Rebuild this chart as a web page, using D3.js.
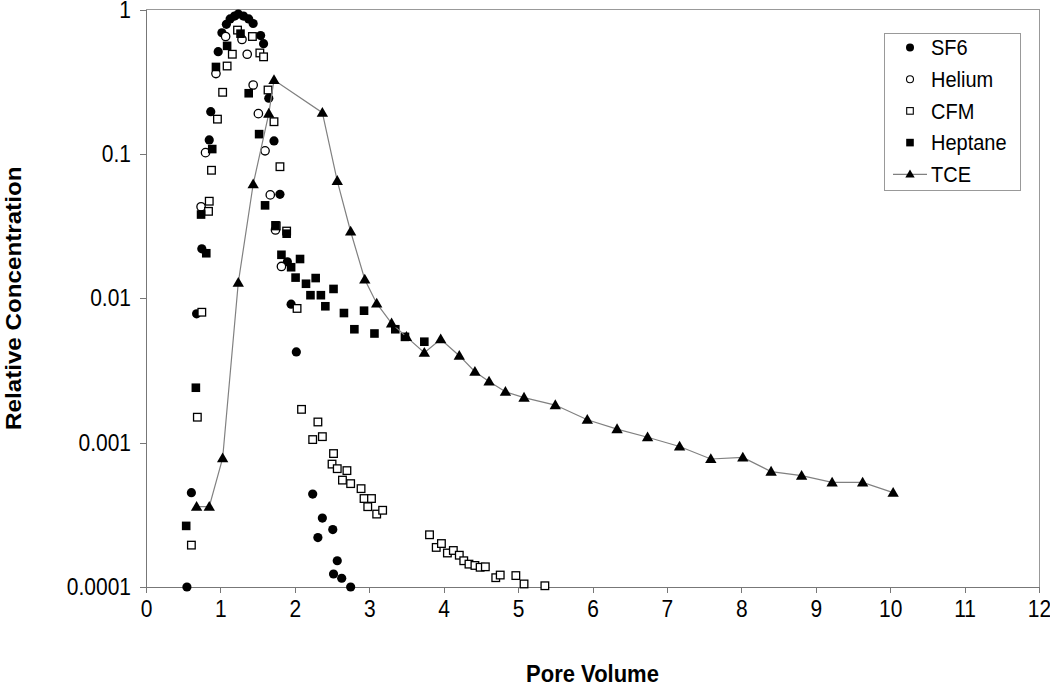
<!DOCTYPE html>
<html>
<head>
<meta charset="utf-8">
<script src="https://cdn.jsdelivr.net/npm/d3@7"></script>
<style>
    body { margin: 0; background: #fff; }
    text { font-family: "Liberation Sans", Arial, sans-serif; }
    .axis path, .axis line { stroke: #777; shape-rendering: crispEdges; }
    .axis text { font-size: 21px; fill: #000; }
    /* the original lettering is a bit taller than wide */
    .tall { transform-box: fill-box; transform-origin: center; transform: scaleY(1.12); }
</style>
</head>
<body>
<svg id="chart" width="1050" height="686"></svg>
<script>
// [pore volume, relative concentration]
var sf6 = [[0.55, 0.0001], [0.61, 0.00045], [0.68, 0.0078], [0.75, 0.022], [0.85, 0.125], [0.87, 0.196],
    [0.97, 0.51], [1.02, 0.69], [1.08, 0.79], [1.13, 0.86], [1.19, 0.90], [1.24, 0.93], [1.31, 0.90],
    [1.38, 0.86], [1.44, 0.80], [1.54, 0.66], [1.58, 0.58], [1.65, 0.243], [1.72, 0.123], [1.80, 0.0525],
    [1.90, 0.0179], [1.95, 0.0091], [2.02, 0.00425], [2.24, 0.00044], [2.31, 0.00022], [2.37, 0.0003],
    [2.51, 0.00025], [2.52, 0.000123], [2.57, 0.000152], [2.63, 0.000115], [2.75, 0.0001]];

var helium = [[0.74, 0.043], [0.80, 0.102], [0.94, 0.36], [1.07, 0.65], [1.29, 0.62], [1.36, 0.49],
    [1.44, 0.30], [1.51, 0.19], [1.60, 0.105], [1.67, 0.052], [1.74, 0.0297], [1.82, 0.0166]];

var cfm = [[0.61, 0.000195], [0.69, 0.0015], [0.75, 0.008], [0.84, 0.040], [0.85, 0.047], [0.88, 0.077],
    [0.96, 0.174], [1.03, 0.267], [1.09, 0.406], [1.16, 0.49], [1.23, 0.72], [1.43, 0.65], [1.53, 0.50],
    [1.58, 0.47], [1.64, 0.277], [1.72, 0.167], [1.75, 0.0317], [1.80, 0.0815], [1.89, 0.0292],
    [2.03, 0.0085], [2.09, 0.0017], [2.24, 0.00105], [2.31, 0.00139], [2.37, 0.0011], [2.50, 0.00071],
    [2.52, 0.00084], [2.57, 0.00066], [2.64, 0.00055], [2.70, 0.00064], [2.75, 0.00052], [2.89, 0.00048],
    [2.93, 0.00041], [2.98, 0.00036], [3.03, 0.00041], [3.10, 0.00032], [3.18, 0.00034], [3.81, 0.00023],
    [3.90, 0.000188], [3.97, 0.0002], [4.05, 0.000172], [4.13, 0.000179], [4.21, 0.000166],
    [4.27, 0.000152], [4.34, 0.000144], [4.42, 0.000141], [4.49, 0.000137], [4.56, 0.000138],
    [4.70, 0.000116], [4.76, 0.000121], [4.97, 0.00012], [5.08, 0.000105], [5.36, 0.000102]];

var heptane = [[0.54, 0.000265], [0.67, 0.0024], [0.74, 0.038], [0.81, 0.0205], [0.89, 0.108], [0.94, 0.40],
    [1.09, 0.56], [1.27, 0.68], [1.38, 0.263], [1.52, 0.137], [1.60, 0.044], [1.74, 0.032], [1.82, 0.020],
    [1.89, 0.028], [1.95, 0.0164], [2.01, 0.0139], [2.07, 0.0187], [2.15, 0.0126], [2.21, 0.0105],
    [2.28, 0.0138], [2.35, 0.0105], [2.41, 0.0088], [2.52, 0.0116], [2.66, 0.0079], [2.80, 0.0061],
    [2.93, 0.0082], [3.07, 0.0057], [3.35, 0.0061], [3.48, 0.0054], [3.74, 0.0050]];

var tce = [[0.68, 0.00036], [0.85, 0.00036], [1.03, 0.00078], [1.24, 0.0128], [1.44, 0.0616], [1.65, 0.19],
    [1.72, 0.325], [2.37, 0.193], [2.57, 0.065], [2.75, 0.029], [2.94, 0.0135], [3.10, 0.0092],
    [3.30, 0.0067], [3.50, 0.0054], [3.74, 0.0042], [3.96, 0.0052], [4.21, 0.0040], [4.42, 0.0031],
    [4.61, 0.00265], [4.83, 0.00225], [5.08, 0.00205], [5.50, 0.00182], [5.93, 0.00144], [6.33, 0.00124],
    [6.74, 0.00109], [7.17, 0.00094], [7.59, 0.00077], [8.02, 0.00079], [8.40, 0.00063], [8.81, 0.00059],
    [9.22, 0.00053], [9.63, 0.00053], [10.04, 0.00045]];

var yTicks = [0.0001, 0.001, 0.01, 0.1, 1];
var seriesNames = ["SF6", "Helium", "CFM", "Heptane", "TCE"];

var svg = d3.select("#chart");
var plotLeft = 146, plotRight = 1039, plotTop = 9.5, plotBottom = 587;

var x = d3.scaleLinear().domain([0, 12]).range([plotLeft, plotRight]);
var y = d3.scaleLog().domain([0.0001, 1]).range([plotBottom, plotTop]);

// plot area border (top + right)
svg.append("path")
    .attr("d", "M" + plotLeft + "," + plotTop + "H" + plotRight + "V" + plotBottom)
    .attr("fill", "none")
    .attr("stroke", "#999")
    .attr("shape-rendering", "crispEdges");

svg.append("g")
    .attr("class", "axis")
    .attr("transform", "translate(0," + plotBottom + ")")
    .call(d3.axisBottom(x).ticks(12).tickSize(6).tickSizeOuter(0).tickPadding(8).tickFormat(d3.format("d")))
    .selectAll("text").classed("tall", true);

svg.append("g")
    .attr("class", "axis")
    .attr("transform", "translate(" + plotLeft + ",0)")
    .call(d3.axisLeft(y).tickValues(yTicks).tickSize(6).tickSizeOuter(0).tickPadding(9)
        .tickFormat(function (d) { return String(d); }))
    .selectAll("text").classed("tall", true);

svg.append("text")
    .attr("class", "tall")
    .attr("x", (plotLeft + plotRight) / 2)
    .attr("y", 681)
    .attr("text-anchor", "middle")
    .attr("font-size", "22px")
    .attr("font-weight", "bold")
    .text("Pore Volume");

svg.append("text")
    .attr("transform", "translate(21," + (plotTop + plotBottom) / 2 + ")rotate(-90)scale(1.1,1)")
    .attr("text-anchor", "middle")
    .attr("font-size", "22px")
    .attr("font-weight", "bold")
    .text("Relative Concentration");

var plot = svg.append("g");

function drawCircles(data, filled) {
    plot.append("g").selectAll("circle")
        .data(data)
        .enter().append("circle")
        .attr("cx", function (d) { return x(d[0]); })
        .attr("cy", function (d) { return y(d[1]); })
        .attr("r", filled ? 4.6 : 4.2)
        .attr("fill", filled ? "#000" : "#fff")
        .attr("stroke", "#000")
        .attr("stroke-width", filled ? 0 : 1.3);
}

function drawSquares(data, filled) {
    var s = filled ? 8.6 : 7.6;
    plot.append("g").selectAll("rect")
        .data(data)
        .enter().append("rect")
        .attr("x", function (d) { return x(d[0]) - s / 2; })
        .attr("y", function (d) { return y(d[1]) - s / 2; })
        .attr("width", s)
        .attr("height", s)
        .attr("fill", filled ? "#000" : "#fff")
        .attr("stroke", "#000")
        .attr("stroke-width", filled ? 0 : 1.3);
}

drawCircles(sf6, true);
drawCircles(helium, false);
drawSquares(cfm, false);
drawSquares(heptane, true);

var line = d3.line()
    .x(function (d) { return x(d[0]); })
    .y(function (d) { return y(d[1]); });

plot.append("path")
    .datum(tce)
    .attr("d", line)
    .attr("fill", "none")
    .attr("stroke", "#808080")
    .attr("stroke-width", 1.2);

var tri = d3.symbol().type(d3.symbolTriangle).size(56);

plot.append("g").selectAll("path")
    .data(tce)
    .enter().append("path")
    .attr("transform", function (d) { return "translate(" + x(d[0]) + "," + (y(d[1]) + 0.8) + ")"; })
    .attr("d", tri)
    .attr("fill", "#000");

// legend
var legend = svg.append("g").attr("transform", "translate(884,33)");

legend.append("rect")
    .attr("x", 0.5)
    .attr("y", 0.5)
    .attr("width", 136)
    .attr("height", 157)
    .attr("fill", "#fff")
    .attr("stroke", "#999");

var rows = legend.selectAll("g.row")
    .data(seriesNames)
    .enter().append("g")
    .attr("class", "row")
    .attr("transform", function (d, i) { return "translate(0," + (14.5 + i * 31.7) + ")"; });

rows.append("text")
    .attr("class", "tall")
    .attr("x", 47)
    .attr("y", 7)
    .attr("font-size", "20px")
    .text(function (d) { return d; });

rows.each(function (d, i) {
    var g = d3.select(this);
    if (i === 0 || i === 1) {
        g.append("circle").attr("cx", 26).attr("cy", 0).attr("r", i === 0 ? 4 : 3.5)
            .attr("fill", i === 0 ? "#000" : "#fff").attr("stroke", "#000").attr("stroke-width", i === 0 ? 0 : 1.1);
    } else if (i === 2 || i === 3) {
        var s = i === 3 ? 7.6 : 6.6;
        g.append("rect").attr("x", 26 - s / 2).attr("y", -s / 2).attr("width", s).attr("height", s)
            .attr("fill", i === 3 ? "#000" : "#fff").attr("stroke", "#000").attr("stroke-width", i === 3 ? 0 : 1.1);
    } else {
        g.append("line").attr("x1", 9).attr("x2", 43).attr("y1", 0).attr("y2", 0)
            .attr("stroke", "#808080").attr("stroke-width", 1.2);
        g.append("path").attr("transform", "translate(26,0.6)")
            .attr("d", d3.symbol().type(d3.symbolTriangle).size(38)).attr("fill", "#000");
    }
});
</script>
</body>
</html>
